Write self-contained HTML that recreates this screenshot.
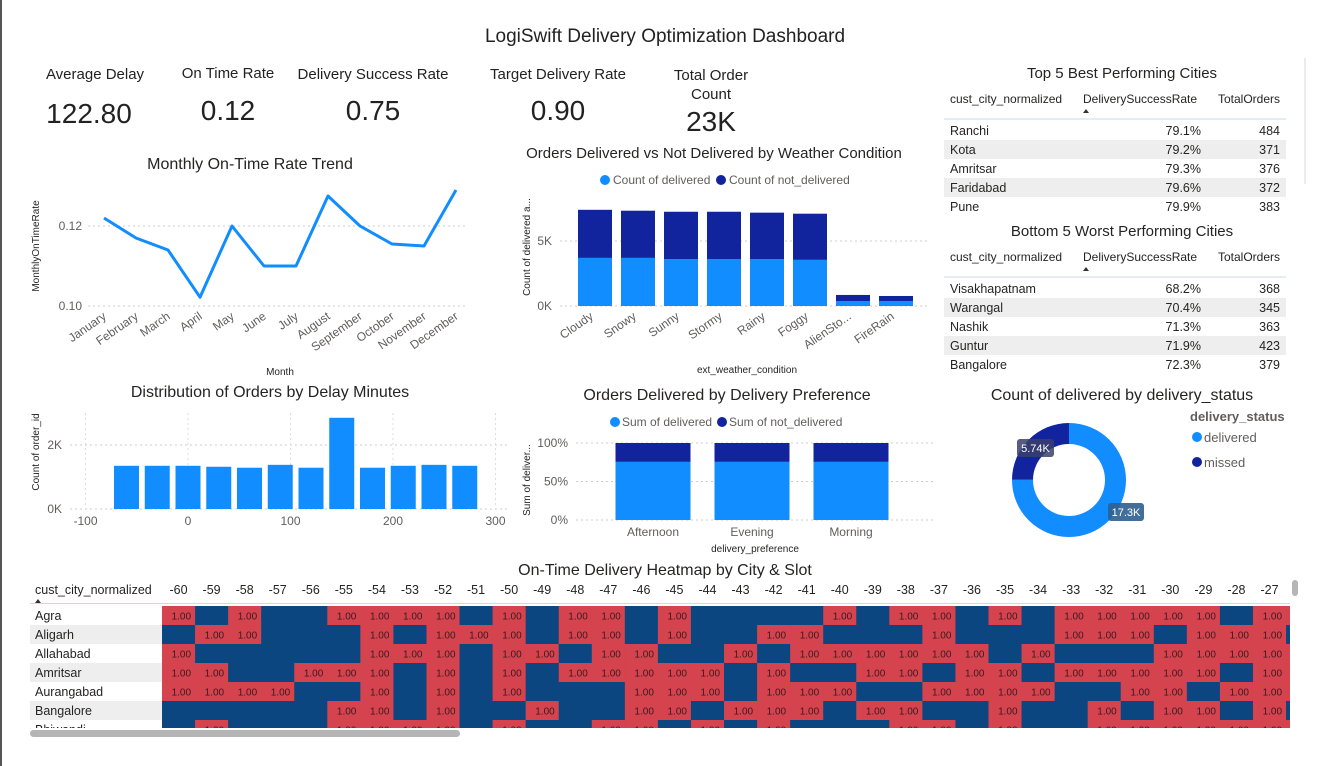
<!DOCTYPE html>
<html><head><meta charset="utf-8"><style>
html,body{margin:0;padding:0;background:#fff;}
svg{display:block;font-family:"Liberation Sans",sans-serif;}
</style></head><body>
<svg id="s" width="1326" height="766" viewBox="0 0 1326 766" xmlns="http://www.w3.org/2000/svg">
<rect x="0" y="0" width="1326" height="766" fill="#fff"/>
<line x1="1" y1="0" x2="1" y2="766" stroke="#555" stroke-width="2"/>
<text x="665" y="42" font-size="19" text-anchor="middle" fill="#222">LogiSwift Delivery Optimization Dashboard</text>
<g font-size="15" fill="#222" text-anchor="middle">
<text x="95" y="79">Average Delay</text>
<text x="89" y="123" font-size="28">122.80</text>
<text x="228" y="78">On Time Rate</text>
<text x="228" y="120" font-size="28">0.12</text>
<text x="373" y="79">Delivery Success Rate</text>
<text x="373" y="120" font-size="28">0.75</text>
<text x="558" y="79">Target Delivery Rate</text>
<text x="558" y="120" font-size="28">0.90</text>
<text x="711" y="80">Total Order</text>
<text x="711" y="99">Count</text>
<text x="711" y="131" font-size="28">23K</text>
</g>
<g id="line"></g>
<g id="weather"></g>
<g id="hist"></g>
<g id="pref"></g>
<g id="donut"></g>
<g id="tables"></g>
<g id="heat"></g>
</svg>
<script>
const months=["January","February","March","April","May","June","July","August","September","October","November","December"];
const monthlyRate=[0.122,0.117,0.114,0.1022,0.120,0.110,0.110,0.1275,0.120,0.1155,0.115,0.129];
const lineTicks=[0.10,0.12];
const weatherCats=["Cloudy","Snowy","Sunny","Stormy","Rainy","Foggy","AlienSto...","FireRain"];
const weatherDelivered=[3.7,3.7,3.6,3.6,3.6,3.55,0.38,0.38];
const weatherNotDelivered=[3.7,3.63,3.65,3.65,3.58,3.55,0.47,0.39];
const weatherTicks=[0,5];
const delayBins=[-60,-30,0,30,60,90,120,150,180,210,240,270];
const delayCounts=[1.35,1.35,1.35,1.32,1.29,1.38,1.29,2.85,1.29,1.35,1.38,1.35];
const delayXTicks=[-100,0,100,200,300];
const delayYTicks=[0,2];
const prefCats=["Afternoon","Evening","Morning"];
const prefDelivered=[0.755,0.755,0.755];
const prefTicks=[0,50,100];
const donutLabels=["delivered","missed"];
const donutValues=[17.3,5.74];
const topCities=["Ranchi","Kota","Amritsar","Faridabad","Pune"];
const topRates=["79.1%","79.2%","79.3%","79.6%","79.9%"];
const topOrders=[484,371,376,372,383];
const botCities=["Visakhapatnam","Warangal","Nashik","Guntur","Bangalore"];
const botRates=["68.2%","70.4%","71.3%","71.9%","72.3%"];
const botOrders=[368,345,363,423,379];
const heatCols=[-60,-59,-58,-57,-56,-55,-54,-53,-52,-51,-50,-49,-48,-47,-46,-45,-44,-43,-42,-41,-40,-39,-38,-37,-36,-35,-34,-33,-32,-31,-30,-29,-28,-27,-26];
const heatCities=["Agra","Aligarh","Allahabad","Amritsar","Aurangabad","Bangalore","Bhiwandi"];
const heatAgra=      [1,0,1,0,0,1,1,1,1,0,1,0,1,1,0,1,0,0,0,0,1,0,1,1,0,1,0,1,1,1,1,1,0,1,1];
const heatAligarh=   [0,1,1,0,0,0,1,0,1,1,1,0,1,1,0,1,0,0,1,1,0,0,0,1,0,0,0,1,1,1,0,1,1,1,0];
const heatAllahabad= [1,0,0,0,0,0,1,1,1,0,1,1,0,1,1,0,0,1,0,1,1,1,1,1,1,0,1,0,0,0,1,1,1,1,1];
const heatAmritsar=  [1,1,0,0,1,1,1,0,1,0,1,0,1,1,1,1,1,0,1,0,0,1,1,0,1,1,0,1,1,1,1,1,0,1,1];
const heatAurangabad=[1,1,1,1,0,0,1,0,1,0,1,0,0,0,1,1,1,0,1,1,1,0,0,1,1,1,1,0,0,1,1,0,1,1,1];
const heatBangalore= [0,0,0,0,0,1,1,0,1,0,0,1,0,0,1,1,0,1,1,1,0,1,1,0,0,1,0,0,1,0,1,1,0,1,0];
const heatBhiwandi=  [0,1,0,0,0,1,1,1,1,0,1,0,0,1,1,0,1,0,1,0,0,0,1,1,0,1,0,0,1,1,1,1,1,1,1];
const heatRows=[heatAgra,heatAligarh,heatAllahabad,heatAmritsar,heatAurangabad,heatBangalore,heatBhiwandi];

const NS="http://www.w3.org/2000/svg";
function mk(p,tag,a,txt){const e=document.createElementNS(NS,tag);for(const k in a)e.setAttribute(k,a[k]);if(txt!==undefined)e.textContent=txt;p.appendChild(e);return e;}
const C1="#118dff",C2="#12239e",GR="#605e5c",DK="#252423";

// ---- line chart
(function(){
const g=document.getElementById('line');
const yS=v=>226-(v-0.12)*4000, xS=i=>104+i*32;
let t=mk(g,'text',{x:250,y:169,'font-size':16,'text-anchor':'middle',fill:DK},'Monthly On-Time Rate Trend');

lineTicks.forEach(v=>{
 let l=mk(g,'line',{x1:88,x2:467,y1:yS(v),y2:yS(v),stroke:'#ccc','stroke-dasharray':'2,3'});
 
 let tx=mk(g,'text',{x:82,y:yS(v)+4,'font-size':12,'text-anchor':'end',fill:GR},v.toFixed(2));
 
});
let p=monthlyRate.map((v,i)=>xS(i)+','+yS(v)).join(' ');
let pl=mk(g,'polyline',{points:p,fill:'none',stroke:C1,'stroke-width':3,'stroke-linejoin':'round'});

months.forEach((m,i)=>{
 let x=xS(i)+3;
 let tx=mk(g,'text',{x:x,y:318,'font-size':12,'text-anchor':'end',fill:GR,transform:`rotate(-35 ${x} 318)`},m);
 
});
let yt=mk(g,'text',{x:39,y:246,'font-size':10,'text-anchor':'middle',fill:DK,transform:'rotate(-90 39 246)'},'MonthlyOnTimeRate');

let xt=mk(g,'text',{x:280,y:375,'font-size':10,'text-anchor':'middle',fill:DK},'Month');

})();

// ---- weather chart
(function(){
const g=document.getElementById('weather');
const yS=v=>306-v*13, xS=i=>595+i*43;
let t=mk(g,'text',{x:714,y:158,'font-size':15,'text-anchor':'middle',fill:DK},'Orders Delivered vs Not Delivered by Weather Condition');

let c=mk(g,'circle',{cx:605,cy:180,r:5,fill:C1});
let lt=mk(g,'text',{x:613,y:184,'font-size':12,fill:GR},'Count of delivered');
c=mk(g,'circle',{cx:721,cy:180,r:5,fill:C2});
lt=mk(g,'text',{x:729,y:184,'font-size':12,fill:GR},'Count of not_delivered');
weatherTicks.forEach(v=>{
 let l=mk(g,'line',{x1:560,x2:928,y1:yS(v),y2:yS(v),stroke:'#ccc','stroke-dasharray':'2,3'});
 
 let tx=mk(g,'text',{x:552,y:yS(v)+4,'font-size':12,'text-anchor':'end',fill:GR},v+'K');
 
});
weatherCats.forEach((cat,i)=>{
 const d=weatherDelivered[i],n=weatherNotDelivered[i],x=xS(i)-17;
 let r=mk(g,'rect',{x:x,y:yS(d),width:34,height:yS(0)-yS(d),fill:C1});
 
 r=mk(g,'rect',{x:x,y:yS(d+n),width:34,height:yS(d)-yS(d+n),fill:C2});
 
 let tx=mk(g,'text',{x:xS(i)-1,y:318,'font-size':12,'text-anchor':'end',fill:GR,transform:`rotate(-35 ${xS(i)-1} 318)`},cat);
 
});
let yt=mk(g,'text',{x:530,y:247,'font-size':10,'text-anchor':'middle',fill:DK,transform:'rotate(-90 530 247)'},'Count of delivered a...');

let xt=mk(g,'text',{x:747,y:373,'font-size':10,'text-anchor':'middle',fill:DK},'ext_weather_condition');

})();

// ---- histogram
(function(){
const g=document.getElementById('hist');
const yS=v=>509-v*32, xS=v=>188+v*1.025;
let t=mk(g,'text',{x:270,y:397,'font-size':16,'text-anchor':'middle',fill:DK},'Distribution of Orders by Delay Minutes');

delayYTicks.forEach(v=>{
 let l=mk(g,'line',{x1:70,x2:507,y1:yS(v),y2:yS(v),stroke:'#ccc','stroke-dasharray':'2,3'});
 
 let tx=mk(g,'text',{x:62,y:yS(v)+4,'font-size':12,'text-anchor':'end',fill:GR},v+'K');
 
});
delayXTicks.forEach(v=>{
 let l=mk(g,'line',{x1:xS(v),x2:xS(v),y1:413,y2:509,stroke:'#ddd','stroke-dasharray':'2,3'});
 
 let tx=mk(g,'text',{x:xS(v),y:525,'font-size':12,'text-anchor':'middle',fill:GR},v);
 
});
delayBins.forEach((b,i)=>{
 let r=mk(g,'rect',{x:xS(b)-12.5,y:yS(delayCounts[i]),width:25,height:yS(0)-yS(delayCounts[i]),fill:C1});
 
});
let yt=mk(g,'text',{x:39,y:452,'font-size':10,'text-anchor':'middle',fill:DK,transform:'rotate(-90 39 452)'},'Count of order_id');

})();

// ---- preference chart
(function(){
const g=document.getElementById('pref');
const yS=v=>520-v*0.77, xS=i=>653+i*99;
let t=mk(g,'text',{x:727,y:400,'font-size':16,'text-anchor':'middle',fill:DK},'Orders Delivered by Delivery Preference');

let c=mk(g,'circle',{cx:615,cy:422,r:5,fill:C1});
let lt=mk(g,'text',{x:622,y:426,'font-size':12,fill:GR},'Sum of delivered');
c=mk(g,'circle',{cx:722,cy:422,r:5,fill:C2});
lt=mk(g,'text',{x:729,y:426,'font-size':12,fill:GR},'Sum of not_delivered');
prefTicks.forEach(v=>{
 let l=mk(g,'line',{x1:576,x2:935,y1:yS(v),y2:yS(v),stroke:'#ccc','stroke-dasharray':'2,3'});
 
 let tx=mk(g,'text',{x:568,y:yS(v)+4,'font-size':12,'text-anchor':'end',fill:GR},v+'%');
 
});
prefCats.forEach((cat,i)=>{
 const d=prefDelivered[i]*100,x=xS(i)-37.5;
 let r=mk(g,'rect',{x:x,y:yS(d),width:75,height:yS(0)-yS(d),fill:C1});
 
 r=mk(g,'rect',{x:x,y:yS(100),width:75,height:yS(d)-yS(100),fill:C2});
 
 let tx=mk(g,'text',{x:xS(i),y:536,'font-size':12,'text-anchor':'middle',fill:GR},cat);
 
});
let yt=mk(g,'text',{x:530,y:480,'font-size':10,'text-anchor':'middle',fill:DK,transform:'rotate(-90 530 480)'},'Sum of deliver...');

let xt=mk(g,'text',{x:755,y:552,'font-size':10,'text-anchor':'middle',fill:DK},'delivery_preference');

})();

// ---- donut
(function(){
const g=document.getElementById('donut');
const cx=1069,cy=480,R=57,r=36;
let t=mk(g,'text',{x:1122,y:400,'font-size':16,'text-anchor':'middle',fill:DK},'Count of delivered by delivery_status');

const tot=donutValues.reduce((a,b)=>a+b,0);let a0=0;const cols=[C1,C2];
donutValues.forEach((v,i)=>{
 const a1=a0+v/tot*2*Math.PI;
 const P=(a,rr)=>[cx+rr*Math.sin(a),cy-rr*Math.cos(a)];
 const [x1,y1]=P(a0,R),[x2,y2]=P(a1,R),[x3,y3]=P(a1,r),[x4,y4]=P(a0,r);
 const lg=(a1-a0)>Math.PI?1:0;
 let p=mk(g,'path',{d:`M${x1},${y1}A${R},${R} 0 ${lg} 1 ${x2},${y2}L${x3},${y3}A${r},${r} 0 ${lg} 0 ${x4},${y4}Z`,fill:cols[i]});
 
 a0=a1;
});
let b=mk(g,'rect',{x:1017,y:439,width:37,height:18,rx:3,fill:'#3a3f6a',opacity:0.85});
let tx=mk(g,'text',{x:1035.5,y:452,'font-size':11,'text-anchor':'middle',fill:'#fff'},donutValues[1]+'K');
b=mk(g,'rect',{x:1108,y:503,width:36,height:18,rx:3,fill:'#2d5f8f',opacity:0.9});
tx=mk(g,'text',{x:1126,y:516,'font-size':11,'text-anchor':'middle',fill:'#fff'},donutValues[0]+'K');
tx=mk(g,'text',{x:1190,y:421,'font-size':13,'font-weight':'bold',fill:GR},'delivery_status');
donutLabels.forEach((l,i)=>{
 let c=mk(g,'circle',{cx:1197,cy:437+i*25,r:5,fill:cols[i]});
 let t2=mk(g,'text',{x:1204,y:442+i*25,'font-size':13,fill:GR},l);
});
})();

// ---- tables
(function(){
const g=document.getElementById('tables');
mk(g,'line',{x1:1305,x2:1305,y1:58,y2:184,stroke:'#e6e6e6','stroke-width':1.5});
function table(title,ty,cities,rates,orders,nm){
 let t=mk(g,'text',{x:1122,y:ty,'font-size':15,'text-anchor':'middle',fill:DK},title);
 
 const hy=ty+25;
 [['cust_city_normalized',950,'start'],['DeliverySuccessRate',1083,'start'],['TotalOrders',1280,'end']].forEach(h=>{
  let e=mk(g,'text',{x:h[1],y:hy,'font-size':12,'text-anchor':h[2],fill:DK},h[0]);
  
 });
 mk(g,'path',{d:`M1083,${hy+10}l3,-4l3,4z`,fill:'#333'});
 mk(g,'line',{x1:944,x2:1286,y1:hy+16,y2:hy+16,stroke:'#c8dbe8','stroke-width':1});
 cities.forEach((c,i)=>{
  const y0=hy+18+i*19;
  if(i%2==1){let r=mk(g,'rect',{x:944,y:y0,width:342,height:19,fill:'#eeeeee'});}
  let e=mk(g,'text',{x:950,y:y0+14,'font-size':12.5,fill:DK},c);
  e=mk(g,'text',{x:1201,y:y0+14,'font-size':12.5,'text-anchor':'end',fill:DK},rates[i]);
  e=mk(g,'text',{x:1280,y:y0+14,'font-size':12.5,'text-anchor':'end',fill:DK},orders[i]);
 });
}
table('Top 5 Best Performing Cities',78,topCities,topRates,topOrders,'top-cities');
table('Bottom 5 Worst Performing Cities',236,botCities,botRates,botOrders,'bottom-cities');
})();

// ---- heatmap
(function(){
const g=document.getElementById('heat');
const x0=162,cw=33.06,y0=606,rh=19;
let t=mk(g,'text',{x:665,y:575,'font-size':16,'text-anchor':'middle',fill:DK},'On-Time Delivery Heatmap by City & Slot');

let h=mk(g,'text',{x:35,y:594,'font-size':12.5,fill:DK},'cust_city_normalized');
mk(g,'path',{d:'M35,603l3,-4l3,4z',fill:'#333'});
mk(g,'line',{x1:30,x2:1290,y1:603.5,y2:603.5,stroke:'#c8dbe8'});
const clip=mk(g,'clipPath',{id:'hc'});mk(clip,'rect',{x:30,y:604,width:1260,height:124});
const body=mk(g,'g',{'clip-path':'url(#hc)'});
heatCols.forEach((c,j)=>{
 const cx=x0+j*cw+cw/2;
 if(cx<1290){let e=mk(g,'text',{x:cx,y:594,'font-size':12.5,'text-anchor':'middle',fill:DK},c);}
});
heatCities.forEach((city,i)=>{
 const y=y0+i*rh;
 if(i%2==1){let r=mk(body,'rect',{x:30,y:y,width:132,height:rh,fill:'#eeeeee'});}
 let e=mk(body,'text',{x:35,y:y+14,'font-size':12.5,fill:DK},city);
 heatRows[i].forEach((v,j)=>{
  const x=x0+j*cw;
  let r=mk(body,'rect',{x:x,y:y,width:cw+0.5,height:rh+0.5,fill:v?'#d5434f':'#0c4680'});
  
  if(v){let tx=mk(body,'text',{x:x+cw-4,y:y+13.5,'font-size':10,'text-anchor':'end',fill:'#3a1a1e'},'1.00');}
 });
});
mk(g,'rect',{x:1290,y:604,width:36,height:130,fill:'#fff'});
let sb=mk(g,'rect',{x:30,y:730,width:430,height:7,rx:3.5,fill:'#b5b5b5'});
sb=mk(g,'rect',{x:1292,y:580,width:6,height:16,rx:3,fill:'#b5b5b5'});
})();
</script>
</body></html>
